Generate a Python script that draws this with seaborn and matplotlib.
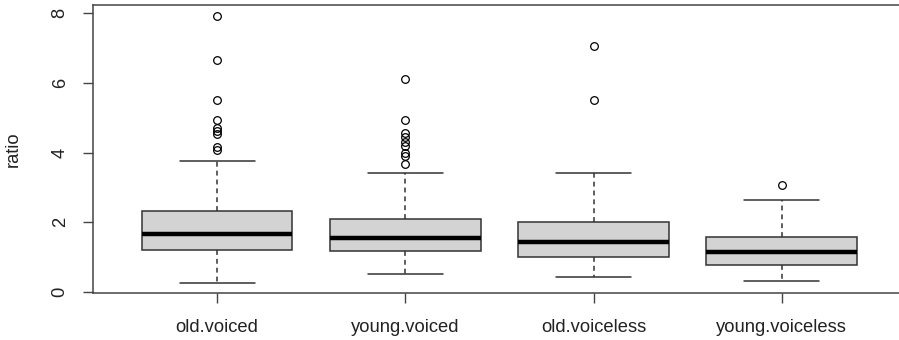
import seaborn as sns
import matplotlib
matplotlib.use("Agg")
import matplotlib.pyplot as plt

# Groups and box statistics
groups = ["old.voiced", "young.voiced", "old.voiceless", "young.voiceless"]
whisker_low = [0.27, 0.51, 0.42, 0.32]
q1 = [1.21, 1.19, 0.99, 0.77]
median = [1.66, 1.56, 1.43, 1.16]
q3 = [2.33, 2.10, 2.00, 1.59]
whisker_high = [3.75, 3.42, 3.42, 2.64]
outliers = [
    [7.93, 6.65, 5.51, 4.94, 4.70, 4.63, 4.55, 4.15, 4.08],
    [6.11, 4.94, 4.57, 4.44, 4.31, 4.20, 3.98, 3.91, 3.68],
    [7.06, 5.51],
    [3.08],
]
y_ticks = [0, 2, 4, 6, 8]

sns.set_theme(style="white")
plt.rcParams["font.family"] = ["Liberation Sans", "DejaVu Sans"]

stats = []
for i, name in enumerate(groups):
    stats.append({
        "label": name,
        "whislo": whisker_low[i],
        "q1": q1[i],
        "med": median[i],
        "q3": q3[i],
        "whishi": whisker_high[i],
        "fliers": outliers[i],
    })

fig = plt.figure(figsize=(8.99, 3.40), dpi=100)
ax = fig.add_axes([0.1034, 0.1382, 0.9043, 0.847])

edge = "#333333"
ax.bxp(
    stats,
    positions=[1, 2, 3, 4],
    widths=0.8,
    patch_artist=True,
    boxprops=dict(facecolor="#d3d3d3", edgecolor=edge, linewidth=1.1),
    medianprops=dict(color="black", linewidth=3.2),
    whiskerprops=dict(color=edge, linewidth=1.1, linestyle=(0, (3.2, 2.6))),
    capprops=dict(color=edge, linewidth=1.1),
    capwidths=0.4,
    flierprops=dict(marker="o", markerfacecolor="none", markeredgecolor="black",
                    markersize=5.5, markeredgewidth=0.9),
)

ax.set_xlim(0.34, 4.66)
ax.set_ylim(-0.03, 8.24)
ax.set_yticks(y_ticks)
ax.set_yticklabels([str(t) for t in y_ticks], rotation=90, va="center")
ax.set_xticks([1, 2, 3, 4])
ax.set_xticklabels(groups)

for s in ax.spines.values():
    s.set_color("#444444")
    s.set_linewidth(1.1)
# the frame runs past the right edge of the picture
ax.spines["right"].set_visible(False)

ax.tick_params(axis="both", which="both", direction="out", length=7.5, width=1.0,
               color="#444444", labelsize=13.2, labelcolor="#222222")
ax.tick_params(axis="y", left=True, pad=10)
ax.tick_params(axis="x", bottom=True, pad=11)

ax.set_ylabel("ratio", fontsize=13.2, color="#222222")
ax.yaxis.set_label_coords(-0.087, 0.5)

fig.savefig("out.png", dpi=100)
